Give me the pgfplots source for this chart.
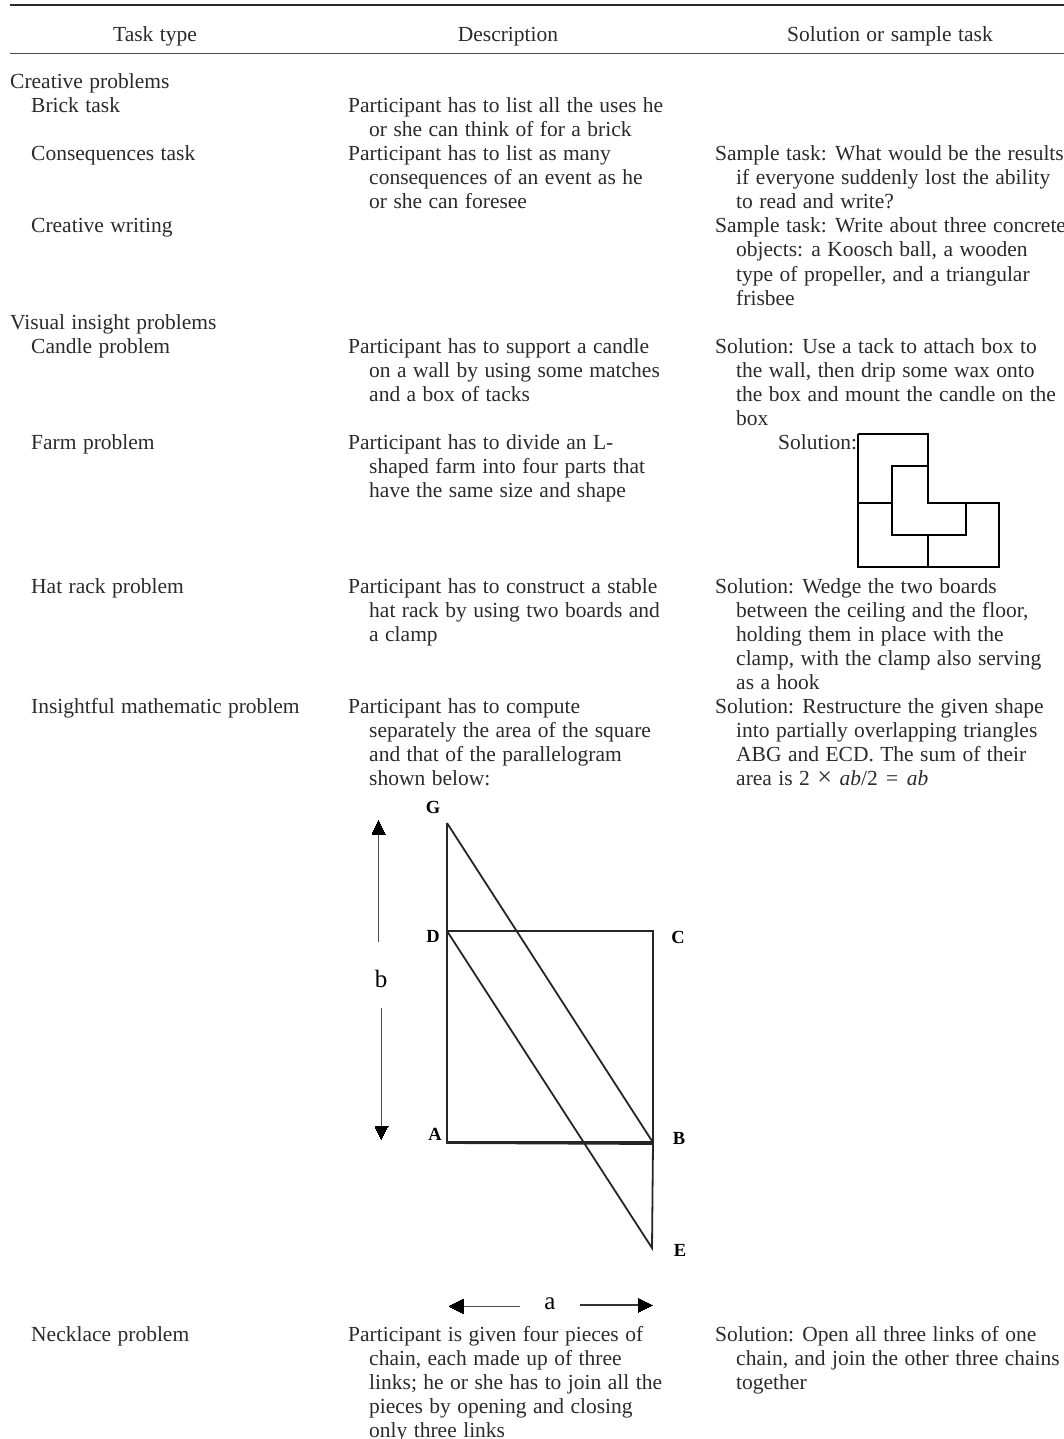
\documentclass[border=0pt]{standalone}
\usepackage{pgfplots}
\pgfplotsset{compat=1.18}
\usepackage{fontspec}
\setmainfont[WordSpace=1.2]{Liberation Serif}
\definecolor{ink}{HTML}{2A2A2A}
\newcommand{\T}[3]{\node[anchor=base west,inner sep=0pt,yshift=-1pt,text=ink,font=\fontsize{21.5}{24}\selectfont] at (axis cs:#1,#2) {#3};}
\newcommand{\C}[3]{\node[anchor=base,inner sep=0pt,yshift=-1pt,text=ink,font=\fontsize{21.5}{24}\selectfont] at (axis cs:#1,#2) {#3};}
\newcommand{\Lb}[3]{\node[anchor=base,inner sep=0pt,text=black,font=\fontsize{18.5}{20}\selectfont\bfseries] at (axis cs:#1,#2) {#3};}
\begin{document}
\begin{tikzpicture}
\path[use as bounding box] (0,0) rectangle (1064pt,1439pt);
\begin{axis}[at={(0,0)},anchor=south west,scale only axis,width=1064pt,height=1439pt,
 xmin=0,xmax=1064,ymin=0,ymax=1439,y dir=reverse,hide axis,clip=false]
% rules
\addplot[ink,line width=2.6pt] coordinates {(10,5) (1064,5)};
\addplot[ink!85!white,line width=1.2pt] coordinates {(10,53.5) (1064,53.5)};
% farm
\addplot[black,line width=2.1pt] coordinates {(858,434) (928,434) (928,503) (999,503) (999,567) (858,567) (858,434)};
\addplot[black,line width=2.1pt] coordinates {(928,466) (892,466) (892,535) (966,535) (966,503)};
\addplot[black,line width=2.1pt] coordinates {(858,503) (892,503)};
\addplot[black,line width=2.1pt] coordinates {(928,535) (928,567)};
% square figure
\addplot[black!85,line width=1.8pt] coordinates {(447,823) (447,1143) (653,1144)};
\addplot[black!85,line width=1.8pt] coordinates {(447,823) (652,1141)};
\addplot[black!85,line width=1.8pt] coordinates {(447,931) (653,931) (653,1143) (652,1248) (447,931)};
\addplot[black!85,line width=1.2pt] coordinates {(447,1142) (653,1142)};
% arrows
\addplot[black!70,line width=1pt] coordinates {(378,833) (378,942)};
\addplot[black!70,line width=1pt] coordinates {(381,1008) (381,1128)};
\addplot[black!70,line width=1pt] coordinates {(462,1306) (520,1306)};
\addplot[black!80,line width=1.1pt] coordinates {(580,1305) (640,1305)};
\addplot[black,fill=black,line width=0pt] coordinates {(378.5,820) (372,834) (385,834) (378.5,820)};
\addplot[black,fill=black,line width=0pt] coordinates {(381,1139) (375,1126) (388,1126) (381,1139)};
\addplot[black,fill=black,line width=0pt] coordinates {(449,1306) (463,1299) (463,1313) (449,1306)};
\addplot[black,fill=black,line width=0pt] coordinates {(652,1305) (638,1298) (638,1312) (652,1305)};
\Lb{433}{813}{G}
\Lb{433}{942}{D}
\Lb{678}{943}{C}
\Lb{435}{1140}{A}
\Lb{679}{1144}{B}
\Lb{680}{1256}{E}
\node[anchor=base,inner sep=0pt,font=\fontsize{25}{26}\selectfont] at (axis cs:381,987) {b};
\node[anchor=base,inner sep=0pt,font=\fontsize{25}{26}\selectfont] at (axis cs:550,1309) {a};
% header
\C{155}{41}{Task type}
\C{508}{41}{Description}
\C{890}{41}{Solution or sample task}
% col 1
\T{10}{88}{Creative problems}
\T{31}{112}{Brick task}
\T{31}{160}{Consequences task}
\T{31}{232}{Creative writing}
\T{10}{328}{Visual insight problems}
\T{31}{352}{Candle problem}
\T{31}{448}{Farm problem}
\T{31}{592}{Hat rack problem}
\T{31}{712}{Insightful mathematic problem}
\T{31}{1340}{Necklace problem}
% col 2
\T{348}{112}{Participant has to list all the uses he}
\T{369}{136}{or she can think of for a brick}
\T{348}{160}{Participant has to list as many}
\T{369}{184}{consequences of an event as he}
\T{369}{208}{or she can foresee}
\T{348}{352}{Participant has to support a candle}
\T{369}{376}{on a wall by using some matches}
\T{369}{400}{and a box of tacks}
\T{348}{448}{Participant has to divide an L-}
\T{369}{472}{shaped farm into four parts that}
\T{369}{496}{have the same size and shape}
\T{348}{592}{Participant has to construct a stable}
\T{369}{616}{hat rack by using two boards and}
\T{369}{640}{a clamp}
\T{348}{712}{Participant has to compute}
\T{369}{736}{separately the area of the square}
\T{369}{760}{and that of the parallelogram}
\T{369}{784}{shown below:}
\T{348}{1340}{Participant is given four pieces of}
\T{369}{1364}{chain, each made up of three}
\T{369}{1388}{links; he or she has to join all the}
\T{369}{1412}{pieces by opening and closing}
\T{369}{1436}{only three links}
% col 3
\T{715}{160}{Sample task: What would be the results}
\T{736}{184}{if everyone suddenly lost the ability}
\T{736}{208}{to read and write?}
\T{715}{232}{Sample task: Write about three concrete}
\T{736}{256}{objects: a Koosch ball, a wooden}
\T{736}{280}{type of propeller, and a triangular}
\T{736}{304}{frisbee}
\T{715}{352}{Solution: Use a tack to attach box to}
\T{736}{376}{the wall, then drip some wax onto}
\T{736}{400}{the box and mount the candle on the}
\T{736}{424}{box}
\T{778}{448}{Solution:}
\T{715}{592}{Solution: Wedge the two boards}
\T{736}{616}{between the ceiling and the floor,}
\T{736}{640}{holding them in place with the}
\T{736}{664}{clamp, with the clamp also serving}
\T{736}{688}{as a hook}
\T{715}{712}{Solution: Restructure the given shape}
\T{736}{736}{into partially overlapping triangles}
\T{736}{760}{ABG and ECD. The sum of their}
\T{736}{784}{area is 2 \hspace{1pt}{\fontsize{26}{26}\selectfont ×}\hspace{1pt} \textit{ab}/2 \hspace{2pt}=\hspace{2pt} \textit{ab}}
\T{715}{1340}{Solution: Open all three links of one}
\T{736}{1364}{chain, and join the other three chains}
\T{736}{1388}{together}
\end{axis}
\end{tikzpicture}
\end{document}
